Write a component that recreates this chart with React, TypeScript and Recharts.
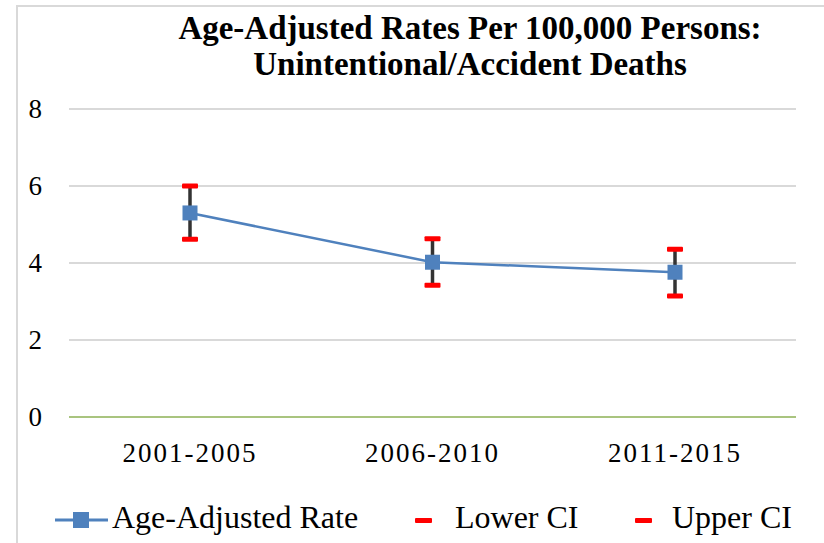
import {
  ComposedChart,
  Line,
  XAxis,
  YAxis,
  CartesianGrid,
  ReferenceLine,
  ErrorBar,
  Legend,
} from "recharts";

const periods = ["2001-2005", "2006-2010", "2011-2015"];
const rate = [5.3, 4.02, 3.76];
const lowerCI = [4.62, 3.42, 3.14];
const upperCI = [6.0, 4.63, 4.36];
const yTicks = [0, 2, 4, 6, 8];

const data = periods.map((period, i) => ({
  period,
  rate: rate[i],
  lower: lowerCI[i],
  upper: upperCI[i],
}));

const BLUE = "#4f81bd";
const RED = "#ff0000";
const SERIF = "Liberation Serif, serif";

function SquareDot(props: any) {
  const { cx, cy } = props;
  if (cx == null || cy == null) return null;
  return <rect x={cx - 7.5} y={cy - 7.5} width={15} height={15} fill={BLUE} />;
}

function DashDot(props: any) {
  const { cx, cy } = props;
  if (cx == null || cy == null) return null;
  return <rect x={cx - 8} y={cy - 2.5} width={16} height={5} rx={1} fill={RED} />;
}

function XTick(props: any) {
  const { x, y, payload } = props;
  return (
    <text x={x} y={y + 18} textAnchor="middle" style={{ fontFamily: SERIF, fontSize: 27, letterSpacing: 2 }} fill="#000">
      {payload.value}
    </text>
  );
}

function YTick(props: any) {
  const { x, y, payload } = props;
  return (
    <text x={x} y={y + 9} textAnchor="end" style={{ fontFamily: SERIF, fontSize: 27 }} fill="#000">
      {payload.value}
    </text>
  );
}

function LegendContent() {
  const text = {
    position: "absolute" as const,
    top: 12,
    fontFamily: SERIF,
    fontSize: 32,
    color: "#000",
    whiteSpace: "nowrap" as const,
  };
  return (
    <div style={{ position: "relative", width: 824, height: 56 }}>
      <svg style={{ position: "absolute", left: 55, top: 23 }} width={53} height={20}>
        <line x1={0} y1={10} x2={53} y2={10} stroke={BLUE} strokeWidth={3} />
        <rect x={18} y={2} width={16} height={16} fill={BLUE} />
      </svg>
      <span style={{ ...text, left: 112 }}>Age-Adjusted Rate</span>
      <div style={{ position: "absolute", left: 415, top: 31, width: 17, height: 5, background: RED, borderRadius: 1 }} />
      <span style={{ ...text, left: 455 }}>Lower CI</span>
      <div style={{ position: "absolute", left: 635, top: 31, width: 17, height: 5, background: RED, borderRadius: 1 }} />
      <span style={{ ...text, left: 672 }}>Upper CI</span>
    </div>
  );
}

export default function App() {
  return (
    <div style={{ position: "absolute", left: 0, top: 0, width: 824, height: 543, background: "#fff", overflow: "hidden" }}>
      <div
        style={{
          position: "absolute",
          left: 16,
          top: 5,
          width: 900,
          height: 600,
          borderLeft: "2px solid #d9d9d9",
          borderTop: "2px solid #d9d9d9",
        }}
      />
      <div
        style={{
          position: "absolute",
          left: 120,
          width: 700,
          top: 10,
          textAlign: "center",
          fontFamily: SERIF,
          fontWeight: "bold",
          fontSize: 33,
          lineHeight: "36px",
        }}
      >
        Age-Adjusted Rates Per 100,000 Persons:
        <br />
        Unintentional/Accident Deaths
      </div>
      <ComposedChart width={824} height={543} data={data} margin={{ top: 109, right: 28, bottom: 0, left: 0 }}>
        <CartesianGrid horizontal vertical={false} stroke="#d9d9d9" strokeWidth={2} />
        <XAxis
          dataKey="period"
          height={70}
          padding={{ left: 121, right: 121 }}
          axisLine={false}
          tickLine={false}
          tickMargin={21}
          tick={<XTick />}
        />
        <YAxis
          domain={[0, 8]}
          ticks={yTicks}
          width={69}
          axisLine={false}
          tickLine={false}
          tickSize={0}
          tickMargin={27}
          tick={<YTick />}
        />
        <ReferenceLine y={0} stroke="#a9c47f" strokeWidth={2} />
        <Legend verticalAlign="bottom" height={56} content={<LegendContent />} wrapperStyle={{ left: 0, width: 824 }} />
        <Line
          dataKey="rate"
          name="Age-Adjusted Rate"
          stroke={BLUE}
          strokeWidth={2.5}
          dot={<SquareDot />}
          isAnimationActive={false}
        />
        <Line dataKey="rate" stroke="none" dot={false} legendType="none" isAnimationActive={false}>
          <ErrorBar
            dataKey={(d: any) => [d.rate - d.lower, d.upper - d.rate]}
            direction="y"
            width={0}
            stroke="#333"
            strokeWidth={3.5}
            isAnimationActive={false}
          />
        </Line>
        <Line dataKey="lower" name="Lower CI" stroke="none" dot={<DashDot />} isAnimationActive={false} />
        <Line dataKey="upper" name="Upper CI" stroke="none" dot={<DashDot />} isAnimationActive={false} />
      </ComposedChart>
    </div>
  );
}
